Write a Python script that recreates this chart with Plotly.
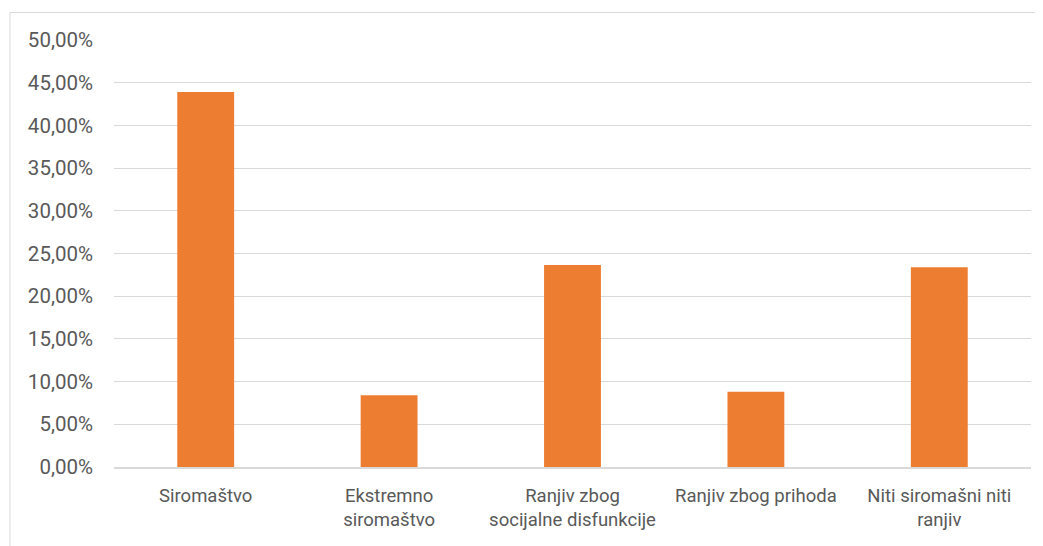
import plotly.graph_objects as go

categories = ["Siromaštvo", "Ekstremno<br>siromaštvo", "Ranjiv zbog<br>socijalne disfunkcije",
              "Ranjiv zbog prihoda", "Niti siromašni niti<br>ranjiv"]
values = [0.439, 0.084, 0.2365, 0.088, 0.234]
y_ticks = [i * 0.05 for i in range(11)]

fig = go.Figure(go.Bar(x=categories, y=values, marker=dict(color="#ED7D31", line=dict(width=0)),
                       hoverinfo="skip"))

font_family = "Roboto, Open Sans, sans-serif"
fig.update_layout(
    width=1035, height=538,
    margin=dict(l=106, r=12, t=32, b=79),
    paper_bgcolor="white", plot_bgcolor="white",
    separators=", ",
    bargap=0.69,
    showlegend=False,
    font=dict(family=font_family, size=18, color="#595959"),
    xaxis=dict(showgrid=False, showline=True, linecolor="#D9D9D9", linewidth=1.5,
               tickfont=dict(size=18.5, color="#595959"), ticks="", ticklabelstandoff=11),
    yaxis=dict(range=[0, 0.5], tickvals=y_ticks, tickformat=".2%", showgrid=True,
               gridcolor="#D9D9D9", gridwidth=1, zeroline=False, showline=False,
               tickfont=dict(size=20.5, color="#595959"), ticklabelstandoff=20),
    shapes=[dict(type="rect", xref="paper", yref="paper",
                 x0=(10 - 114) / 917, x1=1.2, y0=-0.5, y1=(467 - 12.5) / 427,
                 line=dict(color="#D9D9D9", width=1), fillcolor="rgba(0,0,0,0)", layer="below")],
)

fig.write_html("out.html")
